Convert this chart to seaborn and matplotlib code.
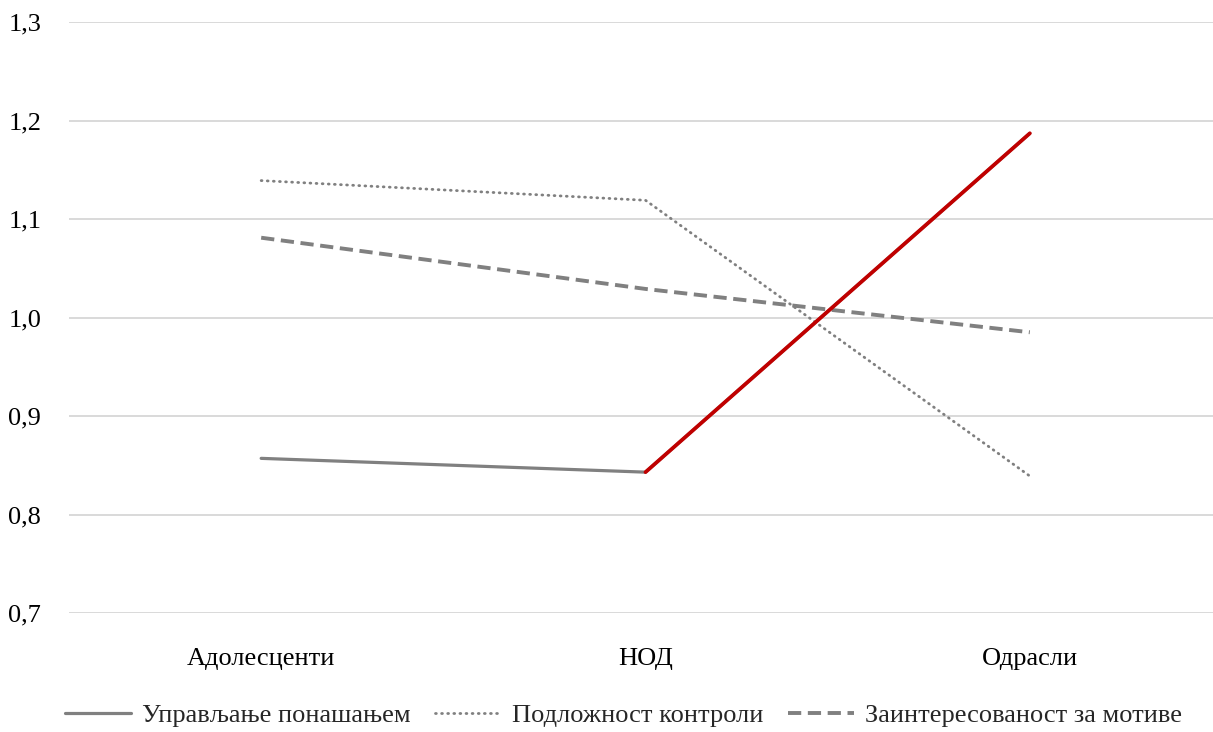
import matplotlib
matplotlib.use("Agg")
import matplotlib.pyplot as plt
import seaborn as sns
import pandas as pd

categories = ["Адолесценти", "НОД", "Одрасли"]
series_names = ["Управљање понашањем", "Подложност контроли", "Заинтересованост за мотиве"]
upravljanje = [0.857, 0.843, 1.187]
podloznost = [1.139, 1.119, 0.839]
zainteresovanost = [1.081, 1.029, 0.985]
y_ticks = [0.7, 0.8, 0.9, 1.0, 1.1, 1.2, 1.3]
y_tick_labels = ["0,7", "0,8", "0,9", "1,0", "1,1", "1,2", "1,3"]

sns.set_theme(style="white")
plt.rcParams["font.family"] = ["Liberation Serif", "DejaVu Serif"]

fig = plt.figure(figsize=(12.13, 7.32), dpi=100)
ax = fig.add_axes([69/1213, 1 - 613/732, 1 - 69/1213, (613 - 22)/732])

gray = "#808080"
red = "#C00000"

df = pd.DataFrame({"cat": categories * 3,
                   "val": upravljanje + podloznost + zainteresovanost,
                   "series": [series_names[0]] * 3 + [series_names[1]] * 3 + [series_names[2]] * 3})

styles = {
    series_names[0]: dict(linestyle="-", lw=2.3),
    series_names[1]: dict(linestyle=(0, (0.3, 1.9)), lw=2.0, dash_capstyle="round"),
    series_names[2]: dict(linestyle=(0, (3.4, 1.7)), lw=2.8),
}
for name in series_names:
    sub = df[df["series"] == name]
    sns.lineplot(data=sub, x="cat", y="val", ax=ax, color=gray, label=name,
                 sort=False, **styles[name])

# red highlighted segment of the first series
sns.lineplot(x=categories[1:], y=upravljanje[1:], ax=ax, color=red, lw=2.7,
             sort=False, legend=False)
ax.lines[-1].set_solid_capstyle("round")

ax.set_ylim(0.7, 1.3)
ax.set_xlim(-0.5, (1213 - 262) / 384)
ax.set_yticks(y_ticks)
ax.set_yticklabels(y_tick_labels)
ax.yaxis.grid(True, color="#d9d9d9", lw=1.4)
ax.xaxis.grid(False)
ax.set_axisbelow(True)
for s in ax.spines.values():
    s.set_visible(False)
ax.tick_params(axis="both", length=0, labelsize=19, colors="black")
ax.tick_params(axis="x", pad=25)
ax.tick_params(axis="y", pad=20)
ax.set_xlabel("")
ax.set_ylabel("")

handles, labels = ax.get_legend_handles_labels()
ax.get_legend().remove()
fig.legend(handles[:3], labels[:3], loc="lower center", bbox_to_anchor=(0.514, -0.026),
           ncol=3, frameon=False, fontsize=19, handlelength=2.5, columnspacing=0.95,
           handletextpad=0.4)

fig.savefig("out.png", dpi=100)
